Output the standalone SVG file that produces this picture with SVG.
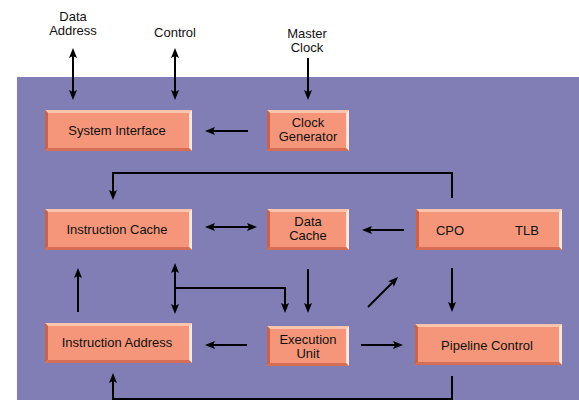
<svg xmlns="http://www.w3.org/2000/svg" width="579" height="400" viewBox="0 0 579 400">
<style>
  .bg { fill: #807EB4; }
  .face { fill: #F5967A; }
  .dk { fill: #C9614B; }
  .dk2 { fill: #D46E56; }
  .lt { fill: #FBC4AC; }
  .lt2 { fill: #FFE6D9; }
  text { font-family: "Liberation Sans", Arial, sans-serif; font-size: 13px; fill: #111; text-anchor: middle; }
  .ln { stroke: #000; stroke-width: 2; fill: none; }
</style>
<defs>
  <marker id="ah" viewBox="0 0 10 8" refX="5" refY="4" markerWidth="10" markerHeight="8" markerUnits="userSpaceOnUse" orient="auto-start-reverse">
    <path d="M0,0 L10,4 L0,8 L2,4 z" fill="#000"/>
  </marker>
</defs>
<rect class="bg" x="17" y="77" width="562" height="323"/>

<g id="system-interface">
  <rect class="face" x="45" y="110" width="147" height="41"/>
  <polygon class="lt" points="45,110 192,110 189,113 48,113"/>
  <polygon class="lt2" points="192,110 192,151 189,148 189,113"/>
  <polygon class="dk" points="45,110 48,113 48,148 45,151"/>
  <polygon class="dk2" points="45,151 48,148 189,148 192,151"/>
  <text x="117" y="135">System Interface</text>
</g>
<g id="clock-generator">
  <rect class="face" x="267" y="110" width="82" height="41"/>
  <polygon class="lt" points="267,110 349,110 346,113 270,113"/>
  <polygon class="lt2" points="349,110 349,151 346,148 346,113"/>
  <polygon class="dk" points="267,110 270,113 270,148 267,151"/>
  <polygon class="dk2" points="267,151 270,148 346,148 349,151"/>
  <text x="308" y="127">Clock</text>
  <text x="308" y="141">Generator</text>
</g>
<g id="instruction-cache">
  <rect class="face" x="45" y="209" width="147" height="41"/>
  <polygon class="lt" points="45,209 192,209 189,212 48,212"/>
  <polygon class="lt2" points="192,209 192,250 189,247 189,212"/>
  <polygon class="dk" points="45,209 48,212 48,247 45,250"/>
  <polygon class="dk2" points="45,250 48,247 189,247 192,250"/>
  <text x="117" y="234">Instruction Cache</text>
</g>
<g id="data-cache">
  <rect class="face" x="267" y="209" width="82" height="41"/>
  <polygon class="lt" points="267,209 349,209 346,212 270,212"/>
  <polygon class="lt2" points="349,209 349,250 346,247 346,212"/>
  <polygon class="dk" points="267,209 270,212 270,247 267,250"/>
  <polygon class="dk2" points="267,250 270,247 346,247 349,250"/>
  <text x="308" y="226">Data</text>
  <text x="308" y="240">Cache</text>
</g>
<g id="cpo-tlb">
  <rect class="face" x="416" y="209" width="146" height="41"/>
  <polygon class="lt" points="416,209 562,209 559,212 419,212"/>
  <polygon class="lt2" points="562,209 562,250 559,247 559,212"/>
  <polygon class="dk" points="416,209 419,212 419,247 416,250"/>
  <polygon class="dk2" points="416,250 419,247 559,247 562,250"/>
  <text x="450" y="235">CPO</text>
  <text x="527" y="235">TLB</text>
</g>
<g id="instruction-address">
  <rect class="face" x="45" y="323" width="147" height="40"/>
  <polygon class="lt" points="45,323 192,323 189,326 48,326"/>
  <polygon class="lt2" points="192,323 192,363 189,360 189,326"/>
  <polygon class="dk" points="45,323 48,326 48,360 45,363"/>
  <polygon class="dk2" points="45,363 48,360 189,360 192,363"/>
  <text x="117" y="347">Instruction Address</text>
</g>
<g id="execution-unit">
  <rect class="face" x="267" y="326" width="82" height="40"/>
  <polygon class="lt" points="267,326 349,326 346,329 270,329"/>
  <polygon class="lt2" points="349,326 349,366 346,363 346,329"/>
  <polygon class="dk" points="267,326 270,329 270,363 267,366"/>
  <polygon class="dk2" points="267,366 270,363 346,363 349,366"/>
  <text x="308" y="344">Execution</text>
  <text x="308" y="358">Unit</text>
</g>
<g id="pipeline-control">
  <rect class="face" x="415" y="324" width="147" height="41"/>
  <polygon class="lt" points="415,324 562,324 559,327 418,327"/>
  <polygon class="lt2" points="562,324 562,365 559,362 559,327"/>
  <polygon class="dk" points="415,324 418,327 418,362 415,365"/>
  <polygon class="dk2" points="415,365 418,362 559,362 562,365"/>
  <text x="487" y="350">Pipeline Control</text>
</g>

<g id="labels">
  <text x="73" y="21">Data</text>
  <text x="73" y="35">Address</text>
  <text x="175" y="37">Control</text>
  <text x="307" y="38">Master</text>
  <text x="307" y="52">Clock</text>
</g>

<g id="connectors">
  <line class="ln" x1="73" y1="53" x2="73" y2="95" marker-start="url(#ah)" marker-end="url(#ah)"/>
  <line class="ln" x1="175" y1="53" x2="175" y2="95" marker-start="url(#ah)" marker-end="url(#ah)"/>
  <line class="ln" x1="308" y1="58" x2="308" y2="95" marker-end="url(#ah)"/>
  <line class="ln" x1="248" y1="131" x2="210" y2="131" marker-end="url(#ah)"/>
  <polyline class="ln" points="452,198 452,173 113,173 113,195" marker-end="url(#ah)"/>
  <line class="ln" x1="210" y1="227" x2="252" y2="227" marker-start="url(#ah)" marker-end="url(#ah)"/>
  <line class="ln" x1="404" y1="230" x2="367" y2="230" marker-end="url(#ah)"/>
  <line class="ln" x1="78" y1="312" x2="78" y2="273" marker-end="url(#ah)"/>
  <line class="ln" x1="175" y1="268" x2="175" y2="309" marker-start="url(#ah)" marker-end="url(#ah)"/>
  <polyline class="ln" points="175,288 285,288 285,308" marker-end="url(#ah)"/>
  <line class="ln" x1="308" y1="269" x2="308" y2="308" marker-end="url(#ah)"/>
  <line class="ln" x1="368" y1="307" x2="394.5" y2="280.5" marker-end="url(#ah)"/>
  <line class="ln" x1="452" y1="268" x2="452" y2="307" marker-end="url(#ah)"/>
  <line class="ln" x1="247" y1="345" x2="210" y2="345" marker-end="url(#ah)"/>
  <line class="ln" x1="361" y1="345" x2="398" y2="345" marker-end="url(#ah)"/>
  <polyline class="ln" points="452,376 452,399 113,399 113,378" marker-end="url(#ah)"/>
</g>
</svg>
